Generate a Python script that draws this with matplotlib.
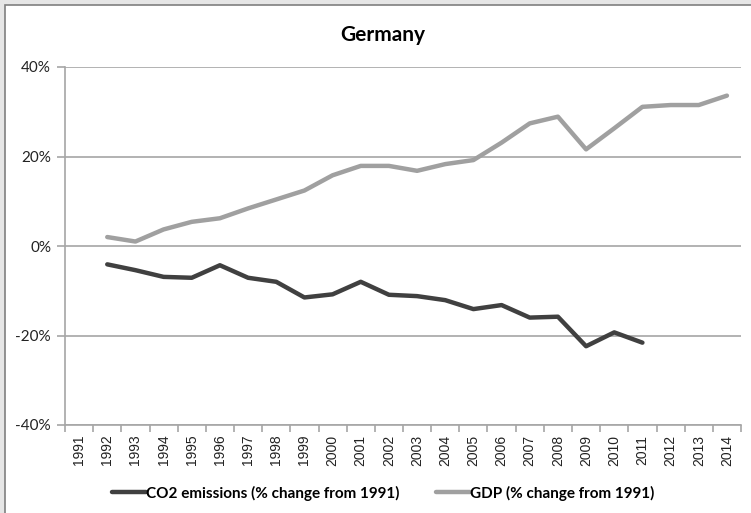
import matplotlib
matplotlib.use('Agg')
import matplotlib.pyplot as plt
from matplotlib.patches import Rectangle
from matplotlib.ticker import FuncFormatter, FixedLocator

plt.rcParams.update({
    'font.family': ['Lato', 'DejaVu Sans'],
    'axes.linewidth': 1.0,
})

# ── data (% change from 1991) ─────────────────────────────────────────────────
years = [str(y) for y in range(1991, 2015)]

co2_years = years[1:21]   # 1992-2011
co2 = [-4.1, -5.4, -6.9, -7.1, -4.3, -7.1, -8.0, -11.5, -10.8, -8.0,
       -10.9, -11.2, -12.1, -14.1, -13.2, -16.0, -15.8, -22.4, -19.3, -21.6]

gdp_years = years[1:]     # 1992-2014
gdp = [2.0, 1.0, 3.7, 5.4, 6.2, 8.4, 10.4, 12.4, 15.8, 17.9,
       17.9, 16.8, 18.3, 19.2, 23.1, 27.4, 28.9, 21.6, 26.3, 31.1,
       31.5, 31.5, 33.6]

GRID = '#a6a6a6'

# ── figure ────────────────────────────────────────────────────────────────────
fig = plt.figure(figsize=(7.51, 5.13), dpi=100, facecolor='#e6e6e6')
fig.patches.append(Rectangle((5 / 751, -0.1), 1.2, 1 - 5 / 513 + 0.1,
                             transform=fig.transFigure, facecolor='white',
                             edgecolor='#7f7f7f', lw=1.2, zorder=-5))

ax = fig.add_axes([65 / 751, 1 - 425 / 513, 676 / 751, 358 / 513])
ax.set_zorder(1)
ax.patch.set_alpha(0)

idx = {y: i for i, y in enumerate(years)}
ax.plot([idx[y] for y in co2_years], co2, color='#404040', lw=3.2,
        solid_capstyle='round', label='CO2 emissions (% change from 1991)', zorder=3)
ax.plot([idx[y] for y in gdp_years], gdp, color='#a0a0a0', lw=3.2,
        solid_capstyle='round', label='GDP (% change from 1991)', zorder=3)

ax.set_xlim(-0.5, len(years) - 0.5)
ax.set_ylim(-40, 40)
ax.set_yticks([-40, -20, 0, 20, 40])
ax.yaxis.set_major_formatter(FuncFormatter(lambda v, p: f'{v:.0f}%'))
ax.yaxis.grid(True, color=GRID, lw=1.2)
ax.set_axisbelow(True)

ax.set_xticks(range(len(years)))
ax.set_xticklabels(years, rotation=90, fontsize=10,
                   family=['Liberation Sans', 'DejaVu Sans'], color='#222222')
ax.xaxis.set_minor_locator(FixedLocator([i - 0.5 for i in range(len(years) + 1)]))
ax.tick_params(axis='x', which='major', length=0, pad=7)
ax.tick_params(axis='x', which='minor', length=5, color=GRID, width=1.2)
ax.tick_params(axis='y', length=6, color=GRID, width=1.2, labelsize=11, pad=4,
               labelcolor='#222222')

for side in ['top', 'right']:
    ax.spines[side].set_visible(False)
ax.spines['left'].set_color(GRID)
ax.spines['left'].set_linewidth(1.2)
ax.spines['bottom'].set_color(GRID)
ax.spines['bottom'].set_linewidth(1.2)

fig.text(383 / 751, 1 - 35 / 513, 'Germany', ha='center', va='center',
         fontsize=15, fontweight='bold')

fig.legend(loc='center', bbox_to_anchor=(383 / 751, 1 - 493 / 513), ncol=2,
           frameon=False, handlelength=2.2, handletextpad=0.0, columnspacing=2.4,
           prop={'weight': 'bold', 'size': 11})

fig.savefig('out.png', dpi=100, facecolor=fig.get_facecolor())
